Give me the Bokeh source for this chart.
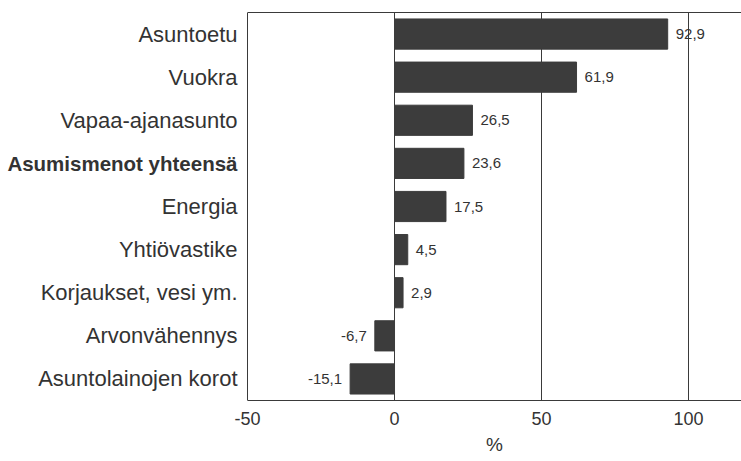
from bokeh.plotting import figure
from bokeh.models import Range1d, FactorRange, FixedTicker, Span, ColumnDataSource, LinearAxis
from bokeh.core.properties import value
from bokeh.embed import file_html
from bokeh.resources import INLINE

# ---- data ----
categories = ["Asuntoetu", "Vuokra", "Vapaa-ajanasunto", "Asumismenot yhteensä",
              "Energia", "Yhtiövastike", "Korjaukset, vesi ym.", "Arvonvähennys",
              "Asuntolainojen korot"]
values = [92.9, 61.9, 26.5, 23.6, 17.5, 4.5, 2.9, -6.7, -15.1]
value_labels = ["92,9", "61,9", "26,5", "23,6", "17,5", "4,5", "2,9", "-6,7", "-15,1"]
bold_category = "Asumismenot yhteensä"
x_ticks = [-50, 0, 50, 100]
x_tick_labels = ["-50", "0", "50", "100"]
x_title = "%"

FONT = "Liberation Sans"
TXT = "#333333"
LINE = "#3a3a3a"
BAR = "#3c3c3c"

X_START, X_END = -134, 118   # left part of the frame holds the category names
AX_START = -50

p = figure(width=741, height=461,
           y_range=FactorRange(factors=categories[::-1]),
           x_range=Range1d(X_START, X_END),
           output_backend="svg", toolbar_location=None,
           min_border_left=0, min_border_right=0,
           min_border_top=12, min_border_bottom=61)
p.outline_line_color = None
p.yaxis.visible = False
p.ygrid.visible = False
xa = p.below[0]

# bars
src = ColumnDataSource(dict(cat=categories, val=values, lab=value_labels))
p.hbar(y="cat", left=0, right="val", height=0.7, source=src,
       fill_color=BAR, line_color=BAR)

# value labels
pos = ColumnDataSource(dict(
    cat=[c for c, v in zip(categories, values) if v >= 0],
    val=[v for v in values if v >= 0],
    lab=[l for l, v in zip(value_labels, values) if v >= 0]))
neg = ColumnDataSource(dict(
    cat=[c for c, v in zip(categories, values) if v < 0],
    val=[v for v in values if v < 0],
    lab=[l for l, v in zip(value_labels, values) if v < 0]))
p.text(x="val", y="cat", text="lab", source=pos, x_offset=8,
       text_align="left", text_baseline="middle",
       text_font=value(FONT), text_font_size=value("15px"), text_color=TXT)
p.text(x="val", y="cat", text="lab", source=neg, x_offset=-8,
       text_align="right", text_baseline="middle",
       text_font=value(FONT), text_font_size=value("15px"), text_color=TXT)

# category names
normal_src = ColumnDataSource(dict(cat=[c for c in categories if c != bold_category]))
bold_src = ColumnDataSource(dict(cat=[c for c in categories if c == bold_category]))
p.text(x=AX_START, y="cat", text="cat", source=normal_src, x_offset=-10,
       text_align="right", text_baseline="middle",
       text_font=value(FONT), text_font_size=value("22px"), text_color=TXT)
p.text(x=AX_START, y="cat", text="cat", source=bold_src, x_offset=-10,
       text_align="right", text_baseline="middle",
       text_font=value(FONT), text_font_size=value("20.5px"),
       text_font_style="bold", text_color=TXT)

# vertical grid lines
p.xgrid.ticker = FixedTicker(ticks=[t for t in x_ticks if t > AX_START])
p.xgrid.grid_line_color = LINE
p.xgrid.grid_line_width = 1
p.xgrid.grid_line_alpha = 1

# left frame line
p.add_layout(Span(location=AX_START, dimension="height", line_color=LINE, line_width=1))

# bottom axis
xa.bounds = (AX_START, X_END)
xa.ticker = FixedTicker(ticks=x_ticks)
xa.major_label_overrides = {t: l for t, l in zip(x_ticks, x_tick_labels)}
xa.axis_line_color = LINE
xa.major_tick_line_color = None
xa.minor_tick_line_color = None
xa.major_tick_out = 0
xa.major_tick_in = 0
xa.major_label_standoff = 11
xa.major_label_text_font = FONT
xa.major_label_text_font_size = "18px"
xa.major_label_text_color = TXT

# axis title, centred under the bounded plotting area
mid = (AX_START + X_END) / 2
title_axis = LinearAxis(ticker=FixedTicker(ticks=[mid]),
                        major_label_overrides={mid: x_title},
                        axis_line_color=None, major_tick_line_color=None,
                        minor_tick_line_color=None, major_tick_out=0, major_tick_in=0,
                        major_label_standoff=6,
                        major_label_text_font=FONT, major_label_text_font_size="19px",
                        major_label_text_color=TXT)
p.add_layout(title_axis, "below")

# top frame line: an empty axis restricted to the plotting area
top = LinearAxis(ticker=FixedTicker(ticks=[]), bounds=(AX_START, X_END),
                 axis_line_color=LINE, major_tick_line_color=None,
                 minor_tick_line_color=None, major_tick_out=0, major_tick_in=0,
                 major_label_standoff=0)
p.add_layout(top, "above")

open("out.html", "w").write(file_html(p, INLINE))
